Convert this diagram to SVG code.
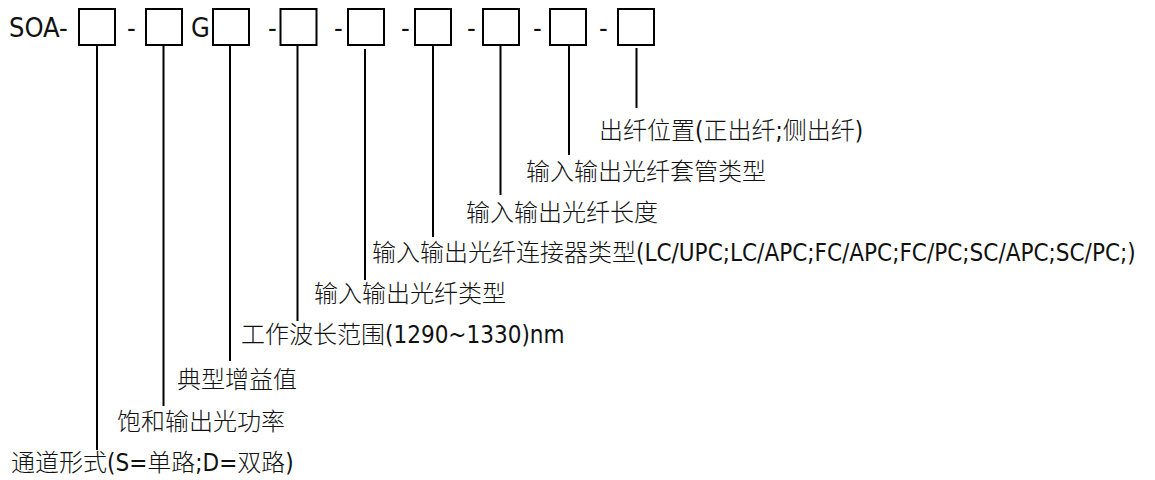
<svg xmlns="http://www.w3.org/2000/svg" width="1155" height="480" viewBox="0 0 1155 480">
<style>
text{font-family:'DejaVu Sans Condensed','Noto Sans CJK SC',sans-serif;font-stretch:condensed;fill:#111}
.t{font-size:27px}
.l{font-size:24px;font-weight:300}
.box{fill:#fff;stroke:#000;stroke-width:2}
.c{stroke:#000;stroke-width:2;fill:none}
</style>
<rect width="1155" height="480" fill="#fff"/>
<g id="code">
<text class="t" x="9" y="37">SOA-</text>
<text class="t" x="127" y="37">-</text>
<text class="t" x="191" y="37">G</text>
<text class="t" x="268" y="37">-</text>
<text class="t" x="334" y="37">-</text>
<text class="t" x="401" y="37">-</text>
<text class="t" x="467" y="37">-</text>
<text class="t" x="533" y="37">-</text>
<text class="t" x="599" y="37">-</text>
</g>
<g id="box1"><rect class="box" x="79" y="9" width="36" height="36"/></g>
<g id="box2"><rect class="box" x="146" y="9" width="36" height="36"/></g>
<g id="box3"><rect class="box" x="213" y="9" width="36" height="36"/></g>
<g id="box4"><rect class="box" x="280.5" y="9" width="36" height="36"/></g>
<g id="box5"><rect class="box" x="348" y="9" width="36" height="36"/></g>
<g id="box6"><rect class="box" x="415" y="9" width="36" height="36"/></g>
<g id="box7"><rect class="box" x="483" y="9" width="36" height="36"/></g>
<g id="box8"><rect class="box" x="550" y="9" width="36" height="36"/></g>
<g id="box9"><rect class="box" x="618" y="9" width="36" height="36"/></g>
<g id="connectors">
<line class="c" x1="97" y1="46" x2="97" y2="450"/>
<line class="c" x1="163.5" y1="46" x2="163.5" y2="406"/>
<line class="c" x1="230" y1="46" x2="230" y2="361"/>
<line class="c" x1="297.5" y1="46" x2="297.5" y2="321"/>
<line class="c" x1="365" y1="49" x2="365" y2="280"/>
<line class="c" x1="433" y1="46" x2="433" y2="237"/>
<line class="c" x1="500.5" y1="46" x2="500.5" y2="195"/>
<line class="c" x1="569" y1="46" x2="569" y2="155"/>
<line class="c" x1="636.5" y1="48" x2="636.5" y2="108"/>
</g>
<g id="label9"><text class="l" x="599" y="139">出纤位置(正出纤;侧出纤)</text></g>
<g id="label8"><text class="l" x="526" y="180">输入输出光纤套管类型</text></g>
<g id="label7"><text class="l" x="466" y="221">输入输出光纤长度</text></g>
<g id="label6"><text class="l" x="372" y="261">输入输出光纤连接器类型(LC/UPC;LC/APC;FC/APC;FC/PC;SC/APC;SC/PC;)</text></g>
<g id="label5"><text class="l" x="314" y="302">输入输出光纤类型</text></g>
<g id="label4"><text class="l" x="241" y="343">工作波长范围(1290~1330)nm</text></g>
<g id="label3"><text class="l" x="177" y="388">典型增益值</text></g>
<g id="label2"><text class="l" x="117" y="430">饱和输出光功率</text></g>
<g id="label1"><text class="l" x="11" y="471">通道形式(S=单路;D=双路)</text></g>
</svg>
